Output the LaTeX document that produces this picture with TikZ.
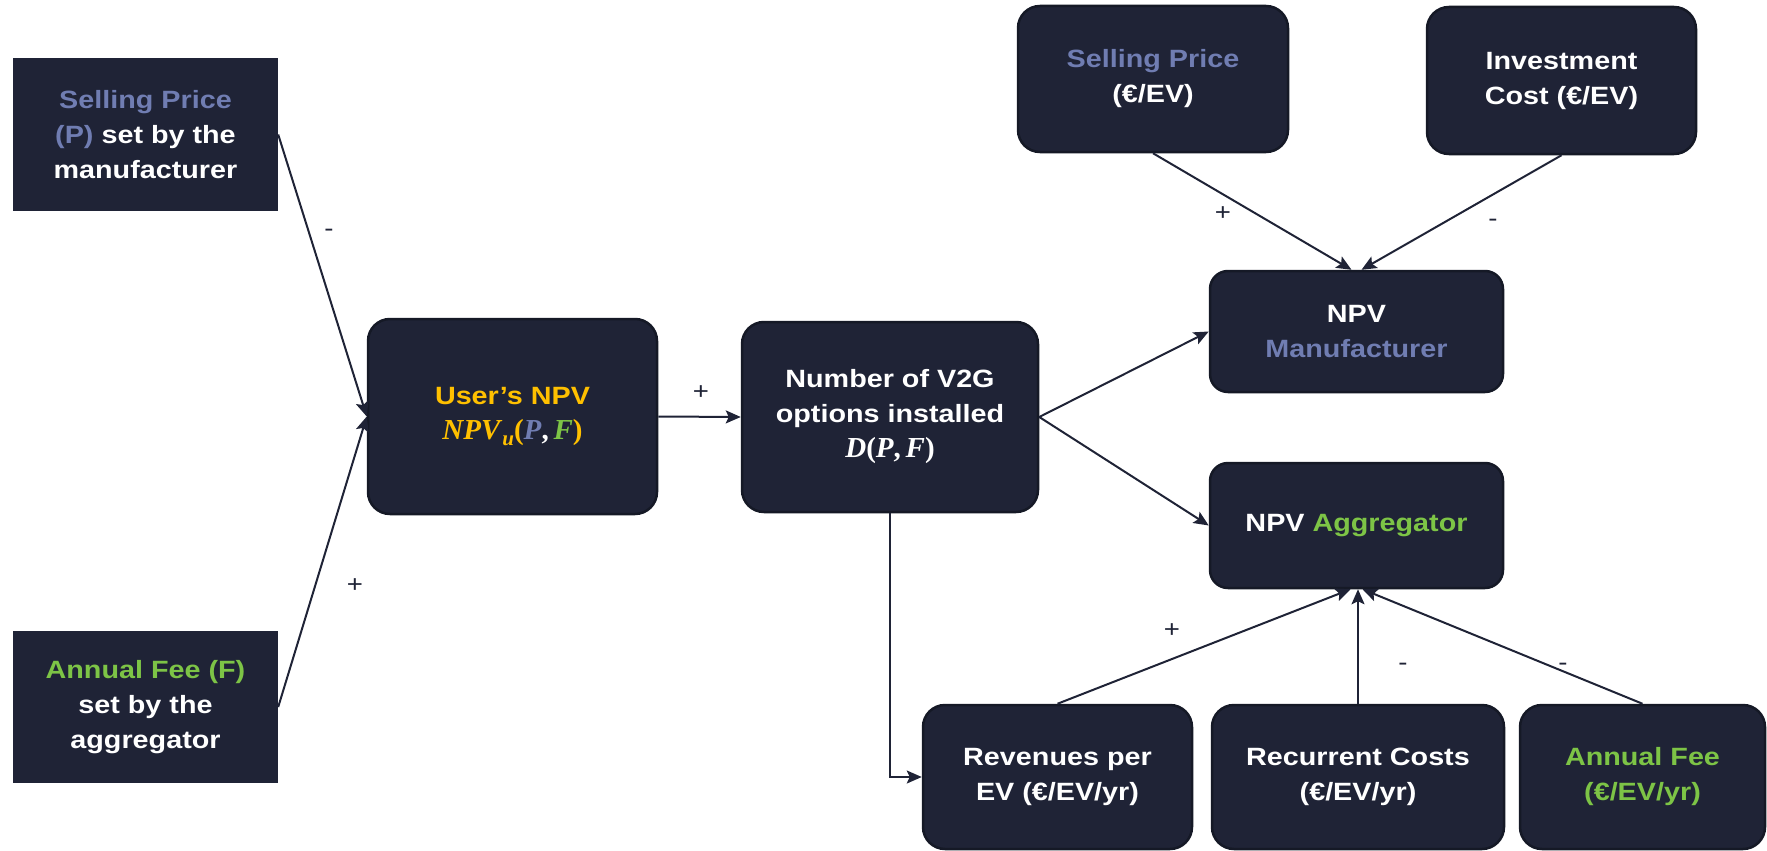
\documentclass[tikz,border=0pt]{standalone}
\usepackage{fontspec}
\setmainfont{Liberation Sans}[FakeStretch=1.15]
\newfontfamily\cambr{Liberation Serif}
\usetikzlibrary{arrows.meta}
\definecolor{boxc}{RGB}{31,35,54}
\definecolor{bordc}{RGB}{21,25,38}
\definecolor{linec}{RGB}{31,35,54}
\definecolor{spc}{RGB}{112,125,178}
\definecolor{grn}{RGB}{125,196,70}
\definecolor{ylw}{RGB}{255,192,0}
\newcommand{\mvar}[1]{\textit{#1}}
\tikzset{
  rbox/.style={draw=bordc, line width=2.5pt, fill=boxc, rounded corners=22pt, text=white, align=center, inner sep=0pt, font=\bfseries\fontsize{25}{35}\selectfont},
  sbox/.style={fill=boxc, text=white, align=center, inner sep=0pt, font=\bfseries\fontsize{25}{35}\selectfont},
  conn/.style={draw=linec, line width=2pt, -{Stealth[length=15pt,width=13pt,inset=3pt]}},
  sign/.style={text=linec, font=\fontsize{24}{28}\selectfont}
}
\begin{document}
\begin{tikzpicture}[x=1pt,y=-1pt]
\useasboundingbox (0,0) rectangle (1767,851);
% left boxes
\node[sbox, minimum width=265pt, minimum height=153pt] (lb1) at (145.5,134.5)
  {\textcolor{spc}{Selling Price}\\\textcolor{spc}{(P)} set by the\\manufacturer};
\node[sbox, minimum width=265pt, minimum height=152pt] (lb2) at (145.5,707)
  {\textcolor{grn}{Annual Fee (F)}\\set by the\\aggregator};
% central boxes
\node[rbox, minimum width=289pt, minimum height=195pt] (user) at (512.5,416.5)
  {\textcolor{ylw}{User’s NPV}\\{\cambr\fontsize{29}{35}\selectfont\color{ylw}\mvar{NPV}\raisebox{-6pt}{\fontsize{21}{21}\selectfont\mvar{u}}(\textcolor{spc}{\mvar{P}}\textcolor{white}{,}\,\textcolor{grn}{\mvar{F}})}};
\node[rbox, minimum width=296pt, minimum height=190pt] (v2g) at (890,417)
  {Number of V2G\\options installed\\{\cambr\fontsize{29}{35}\selectfont\mvar{D}(\mvar{P},\,\mvar{F})}};
% top boxes
\node[rbox, minimum width=270pt, minimum height=146pt] (sp) at (1153,79)
  {\textcolor{spc}{Selling Price}\\(€/EV)};
\node[rbox, minimum width=269pt, minimum height=147pt] (inv) at (1561.5,80.5)
  {Investment\\Cost (€/EV)};
% NPV boxes
\node[rbox, rounded corners=18pt, minimum width=293pt, minimum height=121pt] (mfr) at (1356.5,331.5)
  {NPV\\\textcolor{spc}{Manufacturer}};
\node[rbox, rounded corners=18pt, minimum width=293pt, minimum height=125pt] (agg) at (1356.5,525.5)
  {NPV \textcolor{grn}{Aggregator}};
% bottom boxes
\node[rbox, minimum width=269pt, minimum height=144pt] (rev) at (1057.5,777)
  {Revenues per\\EV (€/EV/yr)};
\node[rbox, minimum width=292pt, minimum height=144pt] (rec) at (1358,777)
  {Recurrent Costs\\(€/EV/yr)};
\node[rbox, minimum width=245pt, minimum height=144pt] (fee) at (1642.5,777)
  {\textcolor{grn}{Annual Fee}\\\textcolor{grn}{(€/EV/yr)}};
% connectors
\draw[conn] (lb1.east) -- (user.west);
\draw[conn] (lb2.east) -- (user.west);
\draw[conn] (user.east) -- (v2g.west);
\draw[conn] (v2g.east) -- (mfr.west);
\draw[conn] (v2g.east) -- (agg.west);
\draw[conn] (v2g.south) |- (rev.west);
\draw[conn] (sp.south) -- ([xshift=-5pt]mfr.north);
\draw[conn] (inv.south) -- ([xshift=5pt]mfr.north);
\draw[conn] (rev.north) -- ([xshift=-6pt]agg.south);
\draw[conn] (rec.north) -- (rec.north |- agg.south);
\draw[conn] (fee.north) -- ([xshift=6pt]agg.south);
% signs
\node[sign] (s1) at (329,233) {-};
\node[sign] (s2) at (355,586) {+};
\node[sign] (s3) at (701,393) {+};
\node[sign] (s4) at (1223,214) {+};
\node[sign] (s5) at (1493,223) {-};
\node[sign] (s6) at (1172,631) {+};
\node[sign] (s7) at (1403,667) {-};
\node[sign] (s8) at (1563,667) {-};
\end{tikzpicture}
\end{document}
